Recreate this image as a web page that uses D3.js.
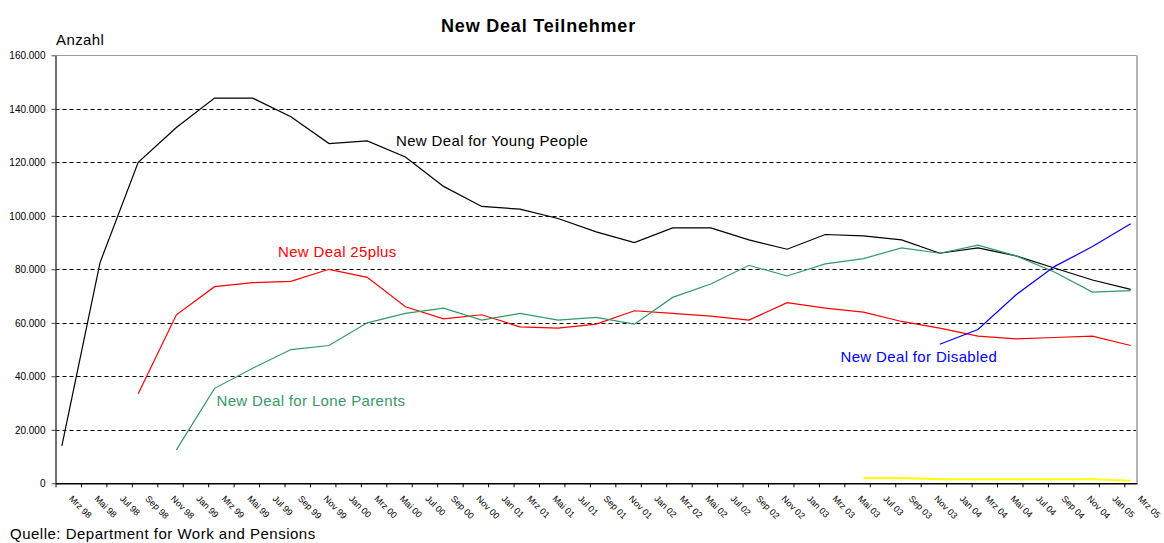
<!DOCTYPE html>
<html>
<head>
<meta charset="utf-8">
<script src="https://cdn.jsdelivr.net/npm/d3@7"></script>
<style>
  html, body { margin: 0; padding: 0; background: #fff; }
  svg { display: block; font-family: "Liberation Sans", Arial, sans-serif; }
</style>
</head>
<body>
<svg id="chart" width="1164" height="543"></svg>
<script>
// ---- data ----
const quarters = ["1998-03","1998-06","1998-09","1998-12","1999-03","1999-06","1999-09","1999-12",
  "2000-03","2000-06","2000-09","2000-12","2001-03","2001-06","2001-09","2001-12",
  "2002-03","2002-06","2002-09","2002-12","2003-03","2003-06","2003-09","2003-12",
  "2004-03","2004-06","2004-09","2004-12","2005-03"];

const youngPeople = [14000, 82500, 120000, 133000, 144000, 144000, 137000, 127000, 128000, 122000,
  111000, 103500, 102500, 99000, 94000, 90000, 95500, 95500, 91000, 87500,
  93000, 92500, 91000, 86000, 88000, 85000, 80500, 76000, 72500];
const plus25 = [null, null, 33500, 63000, 73500, 75000, 75500, 80000, 77000, 66000,
  61500, 63000, 58500, 58000, 59500, 64500, 63500, 62500, 61000, 67500,
  65500, 64000, 60500, 58000, 55000, 54000, 54500, 55000, 51500];
const loneParents = [null, null, null, 12500, 35500, 43000, 50000, 51500, 60000, 63500,
  65500, 61000, 63500, 61000, 62000, 59500, 69500, 74500, 81500, 77500,
  82000, 84000, 88000, 86000, 89000, 85000, 79000, 71500, 72000];
const disabled = [null, null, null, null, null, null, null, null, null, null,
  null, null, null, null, null, null, null, null, null, null,
  null, null, null, 52000, 57500, 70500, 81000, 88500, 97000];
const plus50 = [null, null, null, null, null, null, null, null, null, null,
  null, null, null, null, null, null, null, null, null, null,
  null, 2000, 2000, 1500, 1500, 1500, 1500, 1500, 1000];

const tickLabels = ["Mrz 98","Mai 98","Jul 98","Sep 98","Nov 98",
  "Jan 99","Mrz 99","Mai 99","Jul 99","Sep 99","Nov 99",
  "Jan 00","Mrz 00","Mai 00","Jul 00","Sep 00","Nov 00",
  "Jan 01","Mrz 01","Mai 01","Jul 01","Sep 01","Nov 01",
  "Jan 02","Mrz 02","Mai 02","Jul 02","Sep 02","Nov 02",
  "Jan 03","Mrz 03","Mai 03","Jul 03","Sep 03","Nov 03",
  "Jan 04","Mrz 04","Mai 04","Jul 04","Sep 04","Nov 04",
  "Jan 05","Mrz 05"];
const yTicks = [0, 20000, 40000, 60000, 80000, 100000, 120000, 140000, 160000];

const seriesNames = ["New Deal for Young People", "New Deal 25plus", "New Deal for Lone Parents", "New Deal for Disabled", "New Deal 50plus"];
const seriesColors = ["#000000", "#ff0000", "#339966", "#0000ff", "#ffff00"];

// ---- layout ----
const plotL = 55.5, plotR = 1137, plotT = 55.3, plotB = 483.3;
const svg = d3.select("#chart");

const monthIndex = s => { const [yy, mm] = s.split("-").map(Number); return (yy - 1998) * 12 + (mm - 3); };
const x = d3.scaleLinear().domain([0, 85]).range([plotL, plotR]);
const y = d3.scaleLinear().domain([0, 160000]).range([plotB, plotT]);

const loc = d3.formatLocale({decimal: ",", thousands: ".", grouping: [3], currency: ["", " €"]});
const fmt = loc.format(",d");

// gridlines
svg.append("g").selectAll("line")
  .data(yTicks.filter(v => v > 0 && v < 160000))
  .join("line")
  .attr("x1", plotL).attr("x2", plotR - 1)
  .attr("y1", d => Math.round(y(d)) + 0.5).attr("y2", d => Math.round(y(d)) + 0.5)
  .attr("stroke", "#000").attr("stroke-width", 1).attr("stroke-dasharray", "4,3");

// plot border (top / right)
svg.append("line").attr("x1", plotL).attr("x2", plotR).attr("y1", Math.round(y(160000)) + 0.5).attr("y2", Math.round(y(160000)) + 0.5)
  .attr("stroke", "#9a9a9a").attr("stroke-width", 1);
svg.append("line").attr("x1", plotR).attr("x2", plotR).attr("y1", plotT).attr("y2", plotB)
  .attr("stroke", "#b4b4b4").attr("stroke-width", 2);

// y axis
const yAxis = svg.append("g").attr("transform", `translate(${plotL},0)`)
  .call(d3.axisLeft(y).tickValues(yTicks).tickFormat(fmt).tickSize(4).tickPadding(6).tickSizeOuter(0));
yAxis.select(".domain").attr("stroke", "#404040").attr("stroke-width", 1.5);
yAxis.selectAll(".tick line").attr("stroke", "#404040");
yAxis.selectAll("text").attr("font-size", 10).attr("fill", "#000");

// x axis
const xAxis = svg.append("g").attr("transform", `translate(0,${plotB})`)
  .call(d3.axisBottom(x).tickValues(tickLabels.map((_, i) => 2 * i))
    .tickFormat(d => tickLabels[d / 2]).tickSize(4).tickSizeOuter(0));
xAxis.select(".domain").attr("stroke", "#000").attr("stroke-width", 1.5);
xAxis.selectAll(".tick line").attr("stroke", "#000");
xAxis.selectAll("text")
  .attr("font-size", 9).attr("fill", "#000")
  .attr("text-anchor", "start").attr("x", 0).attr("y", 0).attr("dy", 0)
  .attr("transform", "translate(12.5,16) rotate(45)");

// lines
const allSeries = [youngPeople, plus25, loneParents, disabled, plus50];
const line = d3.line()
  .defined(d => d.v != null)
  .x(d => x(d.m + 0.5))
  .y(d => y(d.v));
svg.append("g").selectAll("path")
  .data(allSeries.map((vals, i) => ({ vals: vals.map((v, j) => ({ m: monthIndex(quarters[j]), v })), color: seriesColors[i] })))
  .join("path")
  .attr("fill", "none")
  .attr("stroke", d => d.color)
  .attr("stroke-width", d => d.color === "#ffff00" ? 2 : 1.2)
  .attr("d", d => line(d.vals));

// series labels
const labelPos = [
  { i: 0, x: 396, y: 146 },
  { i: 1, x: 278, y: 256.5 },
  { i: 2, x: 216.5, y: 405.5 },
  { i: 3, x: 840.5, y: 362 }
];
svg.append("g").selectAll("text")
  .data(labelPos)
  .join("text")
  .attr("x", d => d.x).attr("y", d => d.y)
  .attr("font-size", 15).attr("letter-spacing", 0.35)
  .attr("fill", d => seriesColors[d.i])
  .text(d => seriesNames[d.i]);

// titles
svg.append("text").attr("x", 538.5).attr("y", 31.5).attr("text-anchor", "middle")
  .attr("font-size", 18).attr("font-weight", "bold").attr("letter-spacing", 0.8)
  .text("New Deal Teilnehmer");
svg.append("text").attr("x", 56).attr("y", 45).attr("font-size", 15).attr("letter-spacing", 0.4)
  .text("Anzahl");
svg.append("text").attr("x", 10).attr("y", 538.5).attr("font-size", 15).attr("letter-spacing", 0.5)
  .text("Quelle: Department for Work and Pensions");
</script>
</body>
</html>
